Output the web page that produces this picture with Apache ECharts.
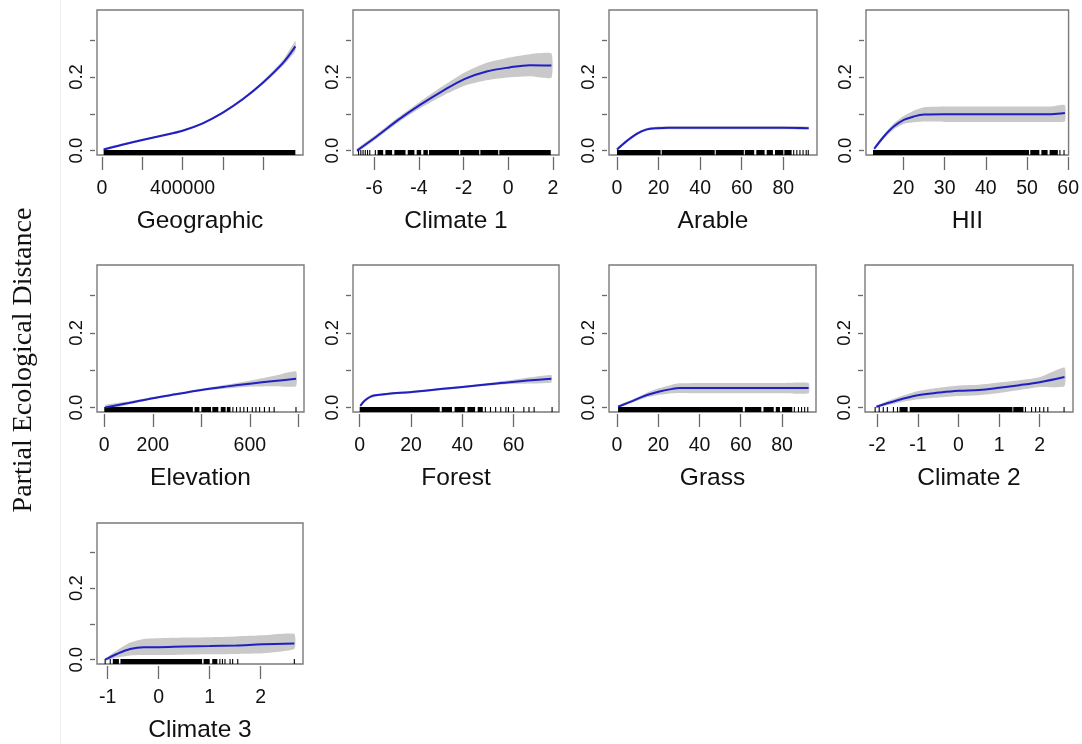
<!DOCTYPE html>
<html><head><meta charset="utf-8">
<script src="https://cdn.jsdelivr.net/npm/echarts@6/dist/echarts.min.js"></script>
<style>html,body{margin:0;padding:0;background:#fff}#c{width:1082px;height:744px}</style>
</head><body><div id="c"></div>
<script>
// ---------- shared axis values ----------
const yTickValues = [0, 0.1, 0.2, 0.3];
const yLabelValues = [0, 0.2];
const yAxisTitle = 'Partial Ecological Distance';

// ---------- Geographic ----------
const geographicX     = [8000, 100000, 200000, 300000, 400000, 500000, 600000, 700000, 800000, 900000, 960000];
const geographicFit   = [0.003, 0.016, 0.029, 0.041, 0.054, 0.074, 0.103, 0.140, 0.185, 0.239, 0.283];
const geographicLower = [0.000, 0.013, 0.026, 0.038, 0.051, 0.071, 0.100, 0.136, 0.180, 0.231, 0.270];
const geographicUpper = [0.006, 0.019, 0.032, 0.044, 0.057, 0.077, 0.106, 0.144, 0.190, 0.247, 0.298];
const geographicTicks = [0, 200000, 400000, 600000, 800000];
const geographicLabels = [0, 400000];
const geographicRugSpans = [[8000, 960000]];
const geographicRugTicks = [];

// ---------- Climate 1 ----------
const climate1X     = [-6.77, -5.88, -4.91, -3.95, -2.91, -1.94, -0.97, 0.06, 0.96, 1.93];
const climate1Fit   = [0.000, 0.039, 0.084, 0.124, 0.163, 0.195, 0.215, 0.226, 0.232, 0.231];
const climate1Lower = [-0.005, 0.033, 0.077, 0.115, 0.150, 0.177, 0.191, 0.199, 0.202, 0.198];
const climate1Upper = [0.005, 0.045, 0.091, 0.133, 0.176, 0.213, 0.239, 0.253, 0.262, 0.264];
const climate1Ticks = [-6, -4, -2, 0, 2];
const climate1Labels = [-6, -4, -2, 0, 2];
const climate1RugSpans = [[-5.85, -5.6], [-5.5, -5.2], [-5.1, -4.6], [-4.5, -4.2], [-4.1, -3.9], [-3.8, -3.6], [-3.55, -2.2], [-2.15, -1.3], [-1.25, -0.45], [-0.4, 1.9]];
const climate1RugTicks = [-6.7, -6.6, -6.5, -6.4, -6.3, -6.2, -5.95];

// ---------- Arable ----------
const arableX     = [0, 4.5, 9.3, 14, 18.9, 25, 40, 60, 80, 92.2];
const arableFit   = [0.003, 0.025, 0.045, 0.057, 0.061, 0.062, 0.062, 0.062, 0.062, 0.061];
const arableLower = [-0.001, 0.021, 0.041, 0.053, 0.057, 0.058, 0.058, 0.058, 0.058, 0.057];
const arableUpper = [0.007, 0.029, 0.049, 0.061, 0.065, 0.066, 0.066, 0.066, 0.066, 0.065];
const arableTicks = [0, 20, 40, 60, 80];
const arableLabels = [0, 20, 40, 60, 80];
const arableRugSpans = [[0, 21], [21.5, 47], [47.5, 61], [61.5, 66], [67, 71], [72, 75], [76, 80], [80.5, 84]];
const arableRugTicks = [85, 86.5, 88, 89.5, 91, 92];

// ---------- HII ----------
const hiiX     = [12.9, 15.3, 17.7, 20.2, 22.6, 25.0, 30, 40, 50, 56, 59.2];
const hiiFit   = [0.005, 0.039, 0.066, 0.084, 0.093, 0.098, 0.099, 0.099, 0.099, 0.099, 0.102];
const hiiLower = [0.001, 0.033, 0.058, 0.073, 0.077, 0.079, 0.078, 0.078, 0.078, 0.078, 0.080];
const hiiUpper = [0.009, 0.045, 0.074, 0.095, 0.109, 0.118, 0.120, 0.120, 0.120, 0.120, 0.124];
const hiiTicks = [20, 30, 40, 50, 60];
const hiiLabels = [20, 30, 40, 50, 60];
const hiiRugSpans = [[12.6, 50.5], [50.8, 53], [53.5, 55], [55.5, 57.5]];
const hiiRugTicks = [58, 59];

// ---------- Elevation ----------
const elevationX     = [4, 100, 200, 300, 400, 500, 600, 700, 790];
const elevationFit   = [0.000, 0.012, 0.025, 0.036, 0.047, 0.056, 0.064, 0.071, 0.077];
const elevationLower = [-0.007, 0.008, 0.022, 0.033, 0.044, 0.051, 0.056, 0.057, 0.057];
const elevationUpper = [0.007, 0.016, 0.028, 0.039, 0.050, 0.061, 0.072, 0.085, 0.097];
const elevationTicks = [0, 200, 400, 600, 800];
const elevationLabels = [0, 200, 600];
const elevationRugSpans = [[0, 365], [372, 392], [400, 440], [445, 470], [480, 500], [505, 520]];
const elevationRugTicks = [530, 545, 560, 575, 590, 610, 625, 640, 660, 680, 700, 790];

// ---------- Forest ----------
const forestX     = [0.26, 1.9, 4.5, 7.8, 13, 19.5, 32.5, 45.5, 58.4, 74.7];
const forestFit   = [0.0045, 0.018, 0.030, 0.034, 0.038, 0.041, 0.050, 0.059, 0.068, 0.077];
const forestLower = [0.0005, 0.014, 0.026, 0.031, 0.035, 0.038, 0.047, 0.056, 0.063, 0.067];
const forestUpper = [0.0085, 0.022, 0.034, 0.037, 0.041, 0.044, 0.053, 0.062, 0.073, 0.087];
const forestTicks = [0, 20, 40, 60];
const forestLabels = [0, 20, 40, 60];
const forestRugSpans = [[0, 31.2], [32, 36], [37, 41], [42, 45], [46, 48]];
const forestRugTicks = [49, 51, 53, 55, 57, 58, 60, 64, 66, 68, 75];

// ---------- Grass ----------
const grassX     = [0.5, 7.7, 14.2, 20.6, 27, 30.3, 40, 60, 80, 92.9];
const grassFit   = [0.002, 0.018, 0.033, 0.043, 0.050, 0.052, 0.052, 0.052, 0.052, 0.052];
const grassLower = [-0.001, 0.014, 0.027, 0.034, 0.038, 0.039, 0.038, 0.038, 0.038, 0.038];
const grassUpper = [0.005, 0.022, 0.039, 0.052, 0.062, 0.065, 0.066, 0.066, 0.066, 0.066];
const grassTicks = [0, 20, 40, 60, 80];
const grassLabels = [0, 20, 40, 60, 80];
const grassRugSpans = [[0.5, 61], [62, 70], [71, 76], [77, 79], [80, 85]];
const grassRugTicks = [86, 88, 89.5, 91, 92.5];

// ---------- Climate 2 ----------
const climate2X     = [-2.02, -1.52, -1.0, -0.48, 0, 0.51, 1.0, 1.5, 2.0, 2.61];
const climate2Fit   = [0.002, 0.019, 0.033, 0.040, 0.045, 0.047, 0.053, 0.060, 0.068, 0.082];
const climate2Lower = [-0.001, 0.012, 0.022, 0.027, 0.031, 0.033, 0.039, 0.047, 0.055, 0.057];
const climate2Upper = [0.005, 0.026, 0.044, 0.053, 0.059, 0.061, 0.067, 0.073, 0.081, 0.107];
const climate2Ticks = [-2, -1, 0, 1, 2];
const climate2Labels = [-2, -1, 0, 1, 2];
const climate2RugSpans = [[-1.45, -1.25], [-1.2, 1.33], [1.35, 1.6]];
const climate2RugTicks = [-2.05, -1.95, -1.85, -1.75, -1.6, -1.5, 1.65, 1.8, 1.9, 2.0, 2.1, 2.2, 2.6];

// ---------- Climate 3 ----------
const climate3X     = [-1.05, -0.82, -0.56, -0.29, 0, 0.49, 1.0, 1.52, 2.04, 2.66];
const climate3Fit   = [0.000, 0.016, 0.030, 0.035, 0.035, 0.037, 0.038, 0.040, 0.043, 0.045];
const climate3Lower = [-0.003, 0.006, 0.012, 0.013, 0.013, 0.014, 0.015, 0.016, 0.018, 0.030];
const climate3Upper = [0.003, 0.026, 0.048, 0.058, 0.060, 0.062, 0.063, 0.065, 0.068, 0.072];
const climate3Ticks = [-1, 0, 1, 2];
const climate3Labels = [-1, 0, 1, 2];
const climate3RugSpans = [[-0.9, -0.78], [-0.75, 0.85], [0.88, 1.0], [1.05, 1.15]];
const climate3RugTicks = [-1.05, -0.95, 1.2, 1.25, 1.3, 1.4, 1.45, 1.55, 2.66];

// ---------- panel layout (positions/styles only) ----------
const panels = [
  {name: 'Geographic', x: geographicX, fit: geographicFit, lo: geographicLower, hi: geographicUpper, ticks: geographicTicks, labels: geographicLabels, spans: geographicRugSpans, rug: geographicRugTicks, xmin: -25000, xmax: 998000, left: 97, top: 10, w: 206, h: 145},
  {name: 'Climate 1', x: climate1X, fit: climate1Fit, lo: climate1Lower, hi: climate1Upper, ticks: climate1Ticks, labels: climate1Labels, spans: climate1RugSpans, rug: climate1RugTicks, xmin: -6.95, xmax: 2.27, left: 353, top: 10, w: 206, h: 145},
  {name: 'Arable', x: arableX, fit: arableFit, lo: arableLower, hi: arableUpper, ticks: arableTicks, labels: arableLabels, spans: arableRugSpans, rug: arableRugTicks, xmin: -3.84, xmax: 96.2, left: 609, top: 10, w: 208, h: 145},
  {name: 'HII', x: hiiX, fit: hiiFit, lo: hiiLower, hi: hiiUpper, ticks: hiiTicks, labels: hiiLabels, spans: hiiRugSpans, rug: hiiRugTicks, xmin: 10.9, xmax: 60.1, left: 866, top: 10, w: 203, h: 145},
  {name: 'Elevation', x: elevationX, fit: elevationFit, lo: elevationLower, hi: elevationUpper, ticks: elevationTicks, labels: elevationLabels, spans: elevationRugSpans, rug: elevationRugTicks, xmin: -30, xmax: 823, left: 97, top: 265, w: 207, h: 147},
  {name: 'Forest', x: forestX, fit: forestFit, lo: forestLower, hi: forestUpper, ticks: forestTicks, labels: forestLabels, spans: forestRugSpans, rug: forestRugTicks, xmin: -2.6, xmax: 77.7, left: 353, top: 265, w: 206, h: 147},
  {name: 'Grass', x: grassX, fit: grassFit, lo: grassLower, hi: grassUpper, ticks: grassTicks, labels: grassLabels, spans: grassRugSpans, rug: grassRugTicks, xmin: -3.9, xmax: 96.5, left: 609, top: 265, w: 207, h: 147},
  {name: 'Climate 2', x: climate2X, fit: climate2Fit, lo: climate2Lower, hi: climate2Upper, ticks: climate2Ticks, labels: climate2Labels, spans: climate2RugSpans, rug: climate2RugTicks, xmin: -2.3, xmax: 2.82, left: 865, top: 265, w: 208, h: 147},
  {name: 'Climate 3', x: climate3X, fit: climate3Fit, lo: climate3Lower, hi: climate3Upper, ticks: climate3Ticks, labels: climate3Labels, spans: climate3RugSpans, rug: climate3RugTicks, xmin: -1.21, xmax: 2.83, left: 97, top: 523, w: 206, h: 147}
];

const Y_MIN = -0.012, Y_MAX = 0.382;
const FONT = '"Liberation Sans", Arial, sans-serif';
const BOX = '#7a7a7a', TICK = '#6a6a6a', TXT = '#111';
const LINE = '#1f1fc4', BAND = '#c9c9c9';

const grids = [], xAxes = [], yAxes = [], series = [];
panels.forEach((p, i) => {
  grids.push({left: p.left, top: p.top, width: p.w, height: p.h, show: true, borderColor: BOX, borderWidth: 1.4, backgroundColor: 'transparent'});
  xAxes.push({
    type: 'value', gridIndex: i, min: p.xmin, max: p.xmax, offset: 2,
    axisLine: {show: false, onZero: false}, splitLine: {show: false},
    axisTick: {show: true, customValues: p.ticks, length: 13, lineStyle: {color: TICK, width: 1.3}},
    axisLabel: {customValues: p.labels, margin: 22, fontSize: 19.5, color: TXT, fontFamily: FONT, formatter: v => String(v)},
    name: p.name, nameLocation: 'middle', nameGap: 52,
    nameTextStyle: {fontSize: 24.5, color: TXT, fontFamily: FONT}
  });
  yAxes.push({
    type: 'value', gridIndex: i, min: Y_MIN, max: Y_MAX, offset: 2,
    axisLine: {show: false, onZero: false}, splitLine: {show: false},
    axisTick: {show: true, customValues: yTickValues, length: 5, lineStyle: {color: TICK, width: 1.3}},
    axisLabel: {customValues: yLabelValues, rotate: 90, margin: 9, fontSize: 18.5, color: TXT, fontFamily: FONT, formatter: v => v.toFixed(1)}
  });
  const bandData = p.x.map((x, k) => [x, p.lo[k], p.hi[k]]);
  series.push({
    type: 'custom', xAxisIndex: i, yAxisIndex: i, clip: true, silent: true,
    data: bandData, encode: {x: 0, y: [1, 2]},
    renderItem: (params, api) => {
      if (params.dataIndex !== 0) return null;
      const up = bandData.map(d => api.coord([d[0], d[2]]));
      const dn = bandData.map(d => api.coord([d[0], d[1]])).reverse();
      return {type: 'polygon', shape: {points: up.concat(dn), smooth: 0.15}, style: {fill: BAND, stroke: null}};
    }
  });
  const rugData = p.spans.map(s => [s[0], s[1]]).concat(p.rug.map(t => [t, t]));
  series.push({
    type: 'custom', xAxisIndex: i, yAxisIndex: i, clip: true, silent: true,
    data: rugData, encode: {x: [0, 1]},
    renderItem: (params, api) => {
      const a = api.coord([api.value(0), Y_MIN]);
      const b = api.coord([api.value(1), Y_MIN]);
      const w = Math.max(b[0] - a[0], 1.1);
      return {type: 'rect', shape: {x: a[0] - (b[0] === a[0] ? 0.55 : 0), y: a[1] - 5, width: w, height: 5}, style: {fill: '#000'}};
    }
  });
  series.push({
    type: 'line', xAxisIndex: i, yAxisIndex: i, silent: true,
    data: p.x.map((x, k) => [x, p.fit[k]]),
    showSymbol: false, smooth: 0.35,
    lineStyle: {color: LINE, width: 2}, z: 5
  });
});

const chart = echarts.init(document.getElementById('c'), null, {renderer: 'canvas'});
chart.setOption({
  animation: false,
  backgroundColor: '#fff',
  grid: grids, xAxis: xAxes, yAxis: yAxes, series: series,
  graphic: [
    {type: 'line', shape: {x1: 60.5, y1: 0, x2: 60.5, y2: 744}, style: {stroke: '#ededed', lineWidth: 1}, silent: true},
    {
      type: 'text', x: 24, y: 360, rotation: Math.PI / 2,
      style: {text: yAxisTitle, font: '28px "Liberation Serif", "Times New Roman", serif', fill: '#111', align: 'center', verticalAlign: 'middle'}
    }
  ]
});
</script>
</body></html>
